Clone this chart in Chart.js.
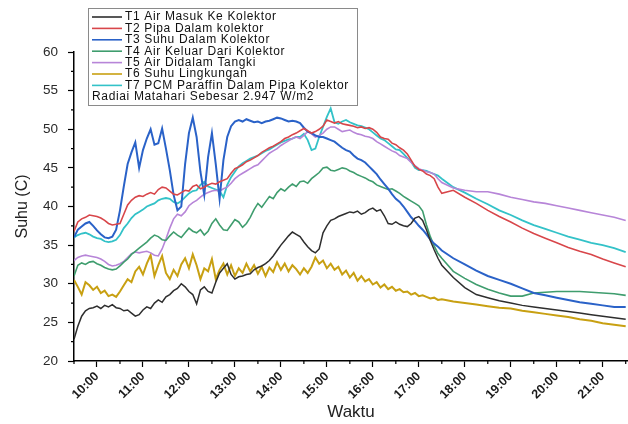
<!DOCTYPE html>
<html>
<head>
<meta charset="utf-8">
<script src="https://cdn.jsdelivr.net/npm/chart.js@4/dist/chart.umd.min.js"></script>
<style>
  html, body { margin: 0; padding: 0; background: #fff; }
  #wrap { width: 628px; height: 424px; position: relative; }
</style>
</head>
<body>
<div id="wrap"><canvas id="suhuChart"></canvas></div>
<script>
// sample times (5 min until 17:30, then every 15 min)
const times = [
    '09:30', '09:35', '09:40', '09:45', '09:50', '09:55', '10:00', '10:05', '10:10', '10:15', '10:20', '10:25',
    '10:30', '10:35', '10:40', '10:45', '10:50', '10:55', '11:00', '11:05', '11:10', '11:15', '11:20', '11:25',
    '11:30', '11:35', '11:40', '11:45', '11:50', '11:55', '12:00', '12:05', '12:10', '12:15', '12:20', '12:25',
    '12:30', '12:35', '12:40', '12:45', '12:50', '12:55', '13:00', '13:05', '13:10', '13:15', '13:20', '13:25',
    '13:30', '13:35', '13:40', '13:45', '13:50', '13:55', '14:00', '14:05', '14:10', '14:15', '14:20', '14:25',
    '14:30', '14:35', '14:40', '14:45', '14:50', '14:55', '15:00', '15:05', '15:10', '15:15', '15:20', '15:25',
    '15:30', '15:35', '15:40', '15:45', '15:50', '15:55', '16:00', '16:05', '16:10', '16:15', '16:20', '16:25',
    '16:30', '16:35', '16:40', '16:45', '16:50', '16:55', '17:00', '17:05', '17:10', '17:15', '17:20', '17:25',
    '17:30',
    '17:45', '18:00', '18:15', '18:30', '18:45', '19:00', '19:15', '19:30', '19:45', '20:00', '20:15', '20:30',
    '20:45', '21:00', '21:15', '21:30'
];

const hourTicks = ['10:00', '11:00', '12:00', '13:00', '14:00', '15:00', '16:00', '17:00', '18:00', '19:00', '20:00', '21:00'];

const t1AirMasuk = [
    22.8, 24.5, 25.8, 26.5, 26.8, 26.9, 27.1, 26.8, 27.2, 27.0, 27.3, 26.9,
    26.8, 26.5, 26.6, 26.2, 25.8, 26.0, 26.6, 27.0, 26.8, 27.5, 27.9, 27.6,
    28.3, 28.6, 29.1, 29.4, 30.0, 29.6, 29.0, 28.6, 27.4, 29.2, 29.6, 29.0,
    28.8, 30.2, 31.4, 32.0, 32.6, 31.2, 30.6, 30.9, 31.0, 31.2, 31.3, 31.8,
    32.1, 32.3, 32.6, 33.0, 33.6, 34.3, 35.0, 35.6, 36.2, 36.7, 36.4, 36.1,
    35.4, 34.8, 34.3, 34.0, 34.5, 36.6, 37.5, 38.2, 38.4, 38.7, 38.9, 39.1,
    39.3, 39.2, 39.4, 39.0, 39.2, 39.6, 39.8, 39.4, 39.6, 38.8, 37.8, 37.7,
    38.0, 37.7, 37.5, 37.4, 37.8, 38.5, 38.7, 38.2, 37.0, 35.6, 34.4, 33.3,
    32.4,
    30.8, 29.5, 28.6, 28.2, 27.8, 27.5, 27.2, 27.0, 26.8, 26.6, 26.4, 26.2,
    26.0, 25.8, 25.6, 25.4
];

const t2Pipa = [
    36.8, 38.0, 38.4, 38.6, 38.9, 38.8, 38.7, 38.5, 38.2, 37.8, 37.6, 37.7,
    37.8, 39.0, 40.2, 40.8, 41.2, 41.4, 41.3, 41.6, 41.8, 41.6, 42.2, 42.5,
    42.4, 42.0, 41.6, 41.5, 41.8, 42.1, 42.0, 42.6, 42.8, 42.3, 42.5, 42.8,
    43.0, 42.9, 43.2, 43.4, 43.6, 44.3, 44.9, 45.1, 45.4, 45.8, 46.0, 46.3,
    46.6, 47.0, 47.3, 47.6, 47.8, 48.1, 48.4, 48.8, 49.0, 49.3, 49.5, 49.8,
    50.1, 49.8, 49.5, 49.7, 50.0, 50.4, 51.2, 51.0, 50.8, 51.0, 50.7, 50.6,
    50.5, 50.4, 50.2, 50.3, 50.1, 50.2, 50.0, 49.6, 49.0, 48.8, 48.7, 48.2,
    48.0, 47.6, 47.3, 46.8, 46.0, 45.2, 44.8, 44.6, 44.2, 44.0, 43.6, 42.5,
    41.7,
    42.1, 41.2, 40.4, 39.5, 38.7, 38.0, 37.2, 36.5, 35.9, 35.3, 34.7, 34.2,
    33.8, 33.2, 32.7, 32.2
];

const t3SuhuDalam = [
    36.0, 37.0, 37.4, 37.8, 38.0, 37.5, 36.9, 36.4, 36.0, 35.9, 36.1, 37.0,
    39.5, 42.6, 45.5, 47.0, 48.3, 45.0, 47.3, 48.8, 50.0, 48.0, 48.2, 50.1,
    47.5, 44.7, 41.5, 39.5, 40.0, 45.5, 49.5, 51.5, 49.0, 44.5, 41.5, 46.4,
    49.5, 45.5, 41.0, 46.0, 49.0, 50.4, 51.0, 51.2, 51.0, 51.3, 51.1, 50.9,
    51.0, 50.8, 51.0, 51.1, 51.3, 51.5, 51.4, 51.2, 51.0, 51.1, 51.0, 50.8,
    50.2, 49.7, 49.5, 49.2, 49.0, 49.0, 48.8, 48.6, 48.4, 48.0, 47.6, 47.3,
    47.1, 46.6, 46.2, 46.0, 45.7, 45.2, 44.7, 44.2, 43.5, 42.9, 42.3, 41.6,
    41.0, 40.6, 40.0, 39.3, 38.6, 38.1, 37.5, 37.0, 36.4, 35.7, 35.2, 34.8,
    34.3,
    33.3, 32.5, 31.7, 31.0, 30.5, 30.0, 29.4, 28.8, 28.5, 28.2, 27.9, 27.6,
    27.4, 27.2, 27.0, 27.0
];

const t4AirKeluar = [
    31.0, 32.4, 32.7, 32.5, 32.8, 32.9, 32.6, 32.4, 32.1, 31.9, 31.8, 31.9,
    32.3, 32.8, 33.2, 33.8, 34.2, 34.6, 35.0, 35.4, 35.9, 36.3, 36.1, 35.7,
    35.6, 36.2, 36.7, 36.3, 36.0, 36.6, 37.2, 36.8, 36.6, 37.0, 36.3, 36.8,
    37.8, 38.4, 37.6, 37.0, 36.9, 37.6, 38.3, 38.0, 37.3, 37.8, 38.6, 39.6,
    40.4, 39.9, 40.6, 41.3, 41.0, 41.8, 42.3, 42.0, 42.5, 42.9, 42.6, 43.2,
    43.3, 43.0, 43.6, 44.0, 44.4, 45.0, 45.1, 44.7, 44.6, 44.8, 45.0, 44.9,
    44.6, 44.4, 44.1, 43.9, 43.7, 43.4, 43.2, 42.8, 42.6, 42.4, 42.2, 42.3,
    42.0, 41.7, 41.3, 41.0, 40.7, 40.4, 40.1, 39.4, 37.6, 36.1, 34.9, 33.9,
    33.3,
    31.6, 30.7, 29.9, 29.3, 28.8, 28.4, 28.4, 28.8, 28.9, 29.0, 29.0, 29.0,
    28.9, 28.8, 28.7, 28.5
];

const t5AirTangki = [
    33.0, 33.4, 33.6, 33.7, 33.6, 33.5, 33.4, 33.2, 32.9, 32.5, 32.3, 32.4,
    32.6, 32.9, 33.4, 33.9, 34.1, 34.0, 34.1, 34.2, 34.0, 33.7, 33.6, 34.5,
    35.8, 37.2, 38.4, 39.0, 38.8, 39.3, 40.1, 40.5, 40.8, 41.2, 41.6, 41.8,
    42.0, 42.1, 42.0, 42.3, 42.5, 43.0, 43.6, 44.0, 44.3, 44.6, 44.9, 45.2,
    45.4, 45.9, 46.4, 46.9, 47.2, 47.5, 47.9, 48.2, 48.5, 48.8, 49.0, 48.8,
    49.2, 49.7, 49.4, 49.0, 49.2, 49.5, 50.0, 50.3, 50.3, 50.0, 49.7, 49.8,
    49.9, 49.6, 49.4, 49.3, 49.1, 49.0, 48.8, 48.4, 48.1, 47.8, 47.5, 47.2,
    47.0, 46.6, 46.4, 46.2, 45.7, 45.3, 44.9, 44.7, 44.5, 44.4, 44.2, 43.6,
    43.1,
    42.4, 42.1, 41.9, 41.9, 41.6, 41.2, 40.9, 40.6, 40.4, 40.1, 39.8, 39.5,
    39.2, 38.9, 38.6, 38.2
];

const t6Lingkungan = [
    30.5, 29.6, 28.6, 30.2, 29.8, 29.2, 29.6, 28.8, 29.1, 28.4, 28.6, 28.3,
    29.0, 29.8, 30.6, 30.2, 31.6, 32.2, 31.2, 32.6, 33.7, 31.0, 32.4, 33.6,
    31.4, 30.6, 31.8, 31.0, 32.5, 33.3, 32.0, 33.8, 32.4, 30.6, 32.0, 31.6,
    33.2, 30.6, 31.8, 32.6, 31.2, 32.4, 31.0, 32.0, 31.4, 32.6, 31.6, 32.4,
    31.3, 32.2, 31.0, 32.1, 31.5, 32.8, 31.8, 32.6, 31.6, 32.4, 31.9, 31.2,
    32.0, 31.4, 32.2, 33.4, 32.6, 33.0, 32.0, 32.6, 31.8, 32.2, 31.2, 31.7,
    30.8, 31.4, 30.4, 31.0, 30.3, 30.6, 29.9, 30.2, 29.5, 29.9, 29.3, 29.6,
    29.1, 29.3, 28.9, 29.0, 28.6, 28.8, 28.4, 28.5, 28.3, 28.1, 28.2, 27.9,
    28.0,
    27.7, 27.5, 27.3, 27.1, 26.9, 26.8, 26.5, 26.3, 26.1, 25.9, 25.7, 25.4,
    25.2, 24.9, 24.7, 24.5
];

const t7Pcm = [
    36.0, 36.3, 36.5, 36.6, 36.4, 36.1, 35.9, 35.8, 35.5, 35.4, 35.5, 35.7,
    36.3, 37.2, 37.8, 38.5, 39.0, 39.3, 39.6, 40.0, 40.2, 40.4, 40.8, 41.0,
    41.1, 41.0, 40.6, 40.4, 40.7, 41.2, 41.7, 42.0, 42.1, 42.8, 43.2, 42.6,
    42.4, 42.2, 42.0, 41.2, 42.8, 43.8, 44.5, 45.2, 45.6, 45.9, 46.2, 46.4,
    46.6, 46.9, 47.2, 47.4, 47.7, 48.0, 48.3, 48.5, 48.7, 48.8, 49.0, 49.0,
    49.4, 48.6, 47.3, 47.5, 49.0, 50.3, 51.6, 52.7, 50.9, 50.7, 51.0, 51.2,
    50.9, 50.7, 50.5, 50.4, 50.2, 50.0, 49.6, 49.2, 48.8, 48.6, 48.2, 47.8,
    47.4, 47.3, 46.8, 46.3, 45.8, 45.0, 44.7, 44.7, 44.6, 44.4, 44.2, 44.0,
    43.6,
    42.5, 41.8, 41.0, 40.3, 39.5, 38.9, 38.2, 37.6, 37.1, 36.6, 36.1, 35.7,
    35.3, 35.0, 34.6, 34.1
];

const radiationNote = 'Radiai Matahari Sebesar 2.947 W/m2';

function toHours(s) {
    const [h, m] = s.split(':').map(Number);
    return h + m / 60;
}

function series(label, values, color, width) {
    return {
        label,
        data: times.map((t, i) => ({ x: toHours(t), y: values[i] })),
        borderColor: color,
        backgroundColor: color,
        borderWidth: width,
        pointRadius: 0,
        tension: 0
    };
}

// Origin-style boxed legend sitting over the plot, plus half-step minor ticks
const overlayPlugin = {
    id: 'overlay',
    afterDatasetsDraw(chart) {
        const ctx = chart.ctx;
        const xs = chart.scales.x;
        const ys = chart.scales.y;
        ctx.save();
        ctx.strokeStyle = '#000';
        ctx.lineWidth = 1.2;
        ctx.beginPath();
        for (let v = 9.5; v <= 21.5; v += 1) {
            const px = xs.getPixelForValue(v);
            ctx.moveTo(px, ys.bottom);
            ctx.lineTo(px, ys.bottom + 3);
        }
        for (let v = 22.5; v < 60; v += 5) {
            const py = ys.getPixelForValue(v);
            ctx.moveTo(xs.left, py);
            ctx.lineTo(xs.left - 3, py);
        }
        ctx.stroke();

        const bx = 88, by = 8, bw = 269, bh = 97;
        ctx.fillStyle = '#fff';
        ctx.fillRect(bx, by, bw, bh);
        ctx.strokeStyle = '#8a8a8a';
        ctx.lineWidth = 1;
        ctx.strokeRect(bx + 0.5, by + 0.5, bw, bh);
        ctx.font = '12px "Liberation Sans", Arial, sans-serif';
        ctx.letterSpacing = '0.65px';
        ctx.textBaseline = 'middle';
        ctx.textAlign = 'left';
        chart.data.datasets.forEach((ds, i) => {
            const y = 17 + i * 11.4;
            ctx.strokeStyle = ds.borderColor;
            ctx.lineWidth = 1.6;
            ctx.beginPath();
            ctx.moveTo(92, y);
            ctx.lineTo(122, y);
            ctx.stroke();
            ctx.fillStyle = '#111';
            ctx.fillText(ds.label, 125, y);
        });
        ctx.fillText(radiationNote, 92, 97);
        ctx.restore();
    }
};

Chart.defaults.font.family = '"Liberation Sans", Arial, sans-serif';
Chart.defaults.color = '#222';

new Chart(document.getElementById('suhuChart'), {
    type: 'line',
    data: {
        datasets: [
            series('T1 Air Masuk Ke Kolektor', t1AirMasuk, '#2e2e2e', 1.5),
            series('T2 Pipa Dalam kolektor', t2Pipa, '#d8464a', 1.6),
            series('T3 Suhu Dalam Kolektor', t3SuhuDalam, '#2a62c8', 2),
            series('T4 Air Keluar Dari Kolektor', t4AirKeluar, '#3f9d6e', 1.6),
            series('T5 Air Didalam Tangki', t5AirTangki, '#b785d8', 1.6),
            series('T6 Suhu Lingkungan', t6Lingkungan, '#c8a012', 2),
            series('T7 PCM Paraffin Dalam Pipa Kolektor', t7Pcm, '#33c2c8', 1.8)
        ]
    },
    options: {
        responsive: true,
        maintainAspectRatio: false,
        animation: false,
        layout: { padding: { top: 52, right: 0, left: 0, bottom: 0 } },
        plugins: {
            legend: { display: false },
            tooltip: { enabled: false }
        },
        scales: {
            x: {
                type: 'linear',
                min: 9.5,
                max: 21.55,
                afterFit: (scale) => { scale.height = 63; },
                afterBuildTicks: (scale) => {
                    scale.ticks = hourTicks.map((h) => ({ value: toHours(h) }));
                },
                grid: { drawOnChartArea: false, tickLength: 6, tickColor: '#000', tickWidth: 1.2 },
                border: { color: '#000', width: 1.5 },
                ticks: {
                    autoSkip: false,
                    minRotation: 45,
                    maxRotation: 45,
                    padding: 2,
                    font: { size: 12.5, weight: 'bold' },
                    color: '#1a1a1a',
                    callback: (value) => hourTicks.find((h) => toHours(h) === value) || ''
                },
                title: {
                    display: true,
                    text: 'Waktu',
                    font: { size: 17 },
                    color: '#222',
                    padding: { top: 0, bottom: 1 }
                }
            },
            y: {
                min: 20,
                max: 60,
                afterFit: (scale) => { scale.width = 74; },
                grid: { drawOnChartArea: false, tickLength: 6, tickColor: '#000', tickWidth: 1.2 },
                border: { color: '#000', width: 1.5 },
                ticks: { stepSize: 5, padding: 10, font: { size: 13.5 }, color: '#2a2a2a' },
                title: {
                    display: true,
                    text: 'Suhu (C)',
                    font: { size: 16 },
                    color: '#222',
                    padding: { top: 13, bottom: 0 }
                }
            }
        }
    },
    plugins: [overlayPlugin]
});
</script>
</body>
</html>
